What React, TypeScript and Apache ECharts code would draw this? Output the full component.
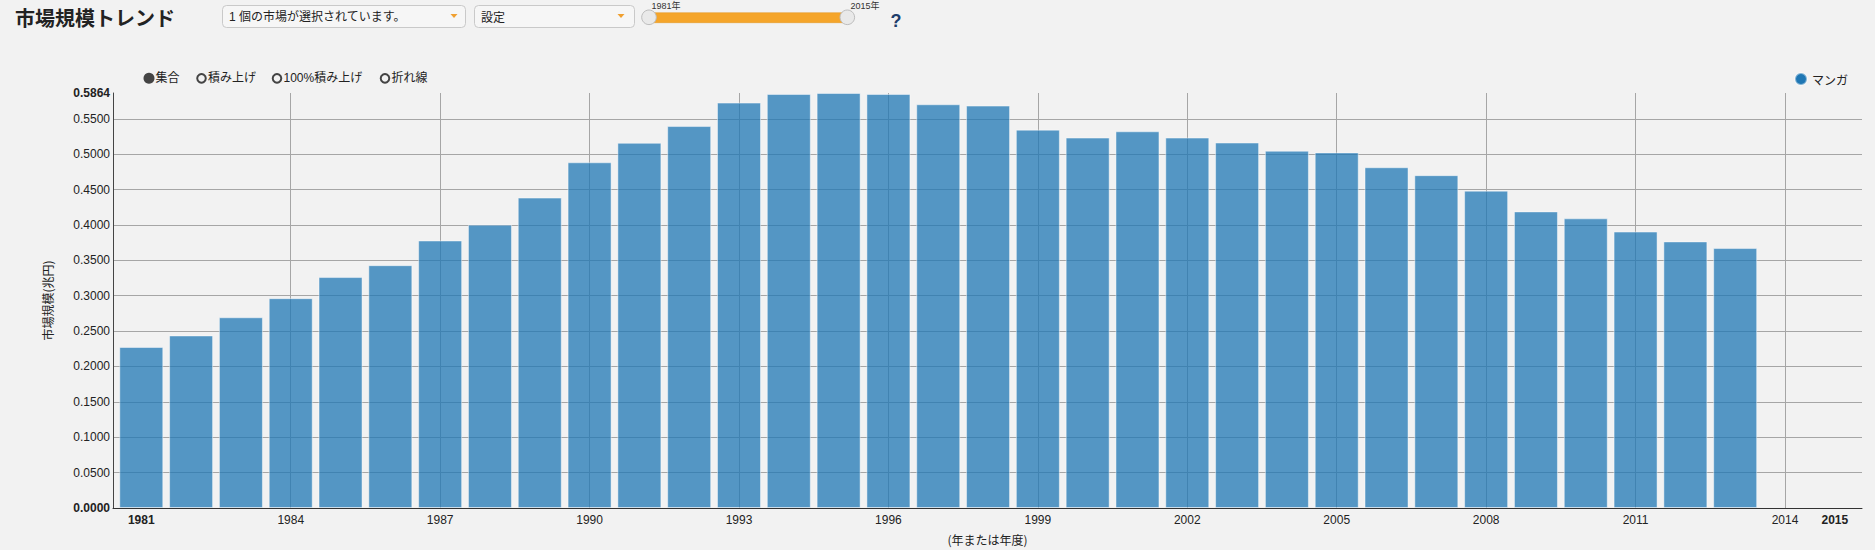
import React, { useEffect, useRef } from "react";
import * as echarts from "echarts";

// ---- data ----
const years = [
  1981, 1982, 1983, 1984, 1985, 1986, 1987, 1988, 1989, 1990, 1991,
  1992, 1993, 1994, 1995, 1996, 1997, 1998, 1999, 2000, 2001, 2002,
  2003, 2004, 2005, 2006, 2007, 2008, 2009, 2010, 2011, 2012, 2013,
];
const mangaMarket = [
  0.2275, 0.2438, 0.2695, 0.2965, 0.3263, 0.3431, 0.378, 0.4004, 0.4386,
  0.4885, 0.516, 0.5397, 0.5728, 0.585, 0.5864, 0.585, 0.5705, 0.5686,
  0.5346, 0.5234, 0.5323, 0.5234, 0.5164, 0.5048, 0.5025, 0.4815, 0.4703,
  0.4484, 0.4191, 0.4093, 0.3906, 0.3767, 0.3673,
];
const seriesName = "マンガ";
const xTickLabels = [
  1981, 1984, 1987, 1990, 1993, 1996, 1999, 2002, 2005, 2008, 2011, 2014, 2015,
];
const xGridYears = [
  1984, 1987, 1990, 1993, 1996, 1999, 2002, 2005, 2008, 2011, 2014,
];
const yTickLabels = [
  0, 0.05, 0.1, 0.15, 0.2, 0.25, 0.3, 0.35, 0.4, 0.45, 0.5, 0.55, 0.5864,
];
const yGridValues = [
  0.05, 0.1, 0.15, 0.2, 0.25, 0.3, 0.35, 0.4, 0.45, 0.5, 0.55,
];
const boldXLabels = [1981, 2015];
const yMax = 0.5864;
const modeOptions = ["集合", "積み上げ", "100%積み上げ", "折れ線"];
const sliderLabels = ["1981年", "2015年"];

const LATIN = "'Liberation Sans', 'Noto Sans CJK JP', Arial, sans-serif";
const CJK = "'Noto Sans CJK JP', 'Liberation Sans', sans-serif";

export default function App() {
  const ref = useRef<HTMLDivElement>(null);

  useEffect(() => {
    document.body.style.margin = "0";
    document.body.style.background = "#f2f2f2";
    if (!ref.current) return;
    const chart = echarts.init(ref.current, undefined, { renderer: "svg" });

    const radioX = [149, 201.5, 277, 385];
    const radioGraphics: any[] = [];
    modeOptions.forEach((label, i) => {
      if (i === 0) {
        radioGraphics.push({
          type: "circle",
          shape: { cx: radioX[i], cy: 78.3, r: 5.5 },
          style: { fill: "#444" },
        });
      } else {
        radioGraphics.push({
          type: "circle",
          shape: { cx: radioX[i], cy: 78.3, r: 4.3 },
          style: { fill: "none", stroke: "#444", lineWidth: 2 },
        });
      }
      radioGraphics.push({
        type: "text",
        x: radioX[i] + 6.5,
        y: 78.3,
        style: {
          text: label,
          fontSize: 12,
          fontFamily: LATIN,
          fill: "#222",
          textVerticalAlign: "middle",
        },
      });
    });

    const option: any = {
      animation: false,
      backgroundColor: "#f2f2f2",
      grid: { left: 113, right: 13, top: 93, bottom: 38, containLabel: false },
      legend: {
        data: [{ name: seriesName, itemStyle: { color: "#1f77b4" } }],
        icon: "circle",
        itemWidth: 12,
        itemHeight: 12,
        padding: 0,
        left: 1794,
        top: 72,
        textStyle: { fontSize: 12, color: "#222", fontFamily: CJK },
      },
      xAxis: {
        type: "value",
        min: 1980.432,
        max: 2015.546,
        axisLine: { show: true, onZero: false, lineStyle: { color: "#333", width: 1 } },
        axisTick: { show: false, customValues: xGridYears },
        splitLine: { show: true, lineStyle: { color: "#a6a6a6", width: 1 } },
        axisLabel: {
          customValues: xTickLabels,
          showMinLabel: true,
          showMaxLabel: true,
          margin: 6,
          color: "#222",
          fontSize: 12,
          fontFamily: LATIN,
          formatter: (v: number) =>
            boldXLabels.includes(Math.round(v)) ? `{b|${Math.round(v)}}` : `${Math.round(v)}`,
          rich: {
            b: { fontWeight: "bold", fontSize: 12, color: "#222", fontFamily: LATIN },
          },
        },
        name: "(年または年度)",
        nameLocation: "middle",
        nameGap: 25,
        nameTextStyle: { fontSize: 12, color: "#222", fontFamily: CJK },
      },
      yAxis: {
        type: "value",
        min: 0,
        max: yMax,
        axisLine: { show: true, onZero: false, lineStyle: { color: "#444", width: 1 } },
        axisTick: { show: false, customValues: yGridValues },
        splitLine: { show: true, lineStyle: { color: "#a6a6a6", width: 1 } },
        axisLabel: {
          customValues: yTickLabels,
          showMinLabel: true,
          showMaxLabel: true,
          margin: 3,
          color: "#222",
          fontSize: 12,
          fontFamily: LATIN,
          formatter: (v: number) =>
            v === 0 || Math.abs(v - yMax) < 1e-9 ? `{b|${v.toFixed(4)}}` : v.toFixed(4),
          rich: {
            b: { fontWeight: "bold", fontSize: 12, color: "#222", fontFamily: LATIN },
          },
        },
        name: "市場規模(兆円)",
        nameLocation: "middle",
        nameGap: 60,
        nameTextStyle: { fontSize: 12, color: "#222", fontFamily: CJK },
      },
      series: [
        {
          name: seriesName,
          type: "bar",
          barWidth: 44,
          data: years.map((y, i) => [y, mangaMarket[i]]),
          itemStyle: {
            color: "rgba(31,119,180,0.75)",
            borderColor: "rgba(255,255,255,0.45)",
            borderWidth: 1,
          },
        },
      ],
      graphic: [
        {
          type: "text",
          x: 15,
          y: 17,
          style: {
            text: "市場規模トレンド",
            fontSize: 20,
            fontWeight: "bold",
            fontFamily: CJK,
            fill: "#222",
            textVerticalAlign: "middle",
          },
        },
        {
          type: "rect",
          shape: { x: 222.5, y: 5.5, width: 243, height: 22, r: 4 },
          style: { fill: "#f6f6f6", stroke: "#c9c9c9", lineWidth: 1 },
        },
        {
          type: "text",
          x: 229,
          y: 16.5,
          style: {
            text: "1 個の市場が選択されています。",
            fontSize: 12,
            fontFamily: LATIN,
            fill: "#222",
            textVerticalAlign: "middle",
          },
        },
        {
          type: "polygon",
          shape: { points: [[450.5, 14], [457.5, 14], [454, 18]] },
          style: { fill: "#f0a030" },
        },
        {
          type: "rect",
          shape: { x: 474.5, y: 5.5, width: 160, height: 22, r: 4 },
          style: { fill: "#f6f6f6", stroke: "#c9c9c9", lineWidth: 1 },
        },
        {
          type: "text",
          x: 481,
          y: 16.5,
          style: {
            text: "設定",
            fontSize: 12,
            fontFamily: CJK,
            fill: "#222",
            textVerticalAlign: "middle",
          },
        },
        {
          type: "polygon",
          shape: { points: [[617.5, 14], [624.5, 14], [621, 18]] },
          style: { fill: "#f0a030" },
        },
        {
          type: "rect",
          shape: { x: 649, y: 12.7, width: 198, height: 10 },
          style: { fill: "#f5a52a", stroke: "#e0961f", lineWidth: 0.5 },
        },
        {
          type: "circle",
          shape: { cx: 649, cy: 17.3, r: 7.3 },
          style: { fill: "#e9e9e9", stroke: "#bdbdbd", lineWidth: 1 },
        },
        {
          type: "circle",
          shape: { cx: 847.3, cy: 17.3, r: 7.3 },
          style: { fill: "#e9e9e9", stroke: "#bdbdbd", lineWidth: 1 },
        },
        {
          type: "text",
          x: 666,
          y: 1,
          z: 10,
          style: {
            text: sliderLabels[0],
            fontSize: 9,
            fontFamily: LATIN,
            fill: "#333",
            textAlign: "center",
            textVerticalAlign: "top",
          },
        },
        {
          type: "text",
          x: 865,
          y: 1,
          z: 10,
          style: {
            text: sliderLabels[1],
            fontSize: 9,
            fontFamily: LATIN,
            fill: "#333",
            textAlign: "center",
            textVerticalAlign: "top",
          },
        },
        {
          type: "text",
          x: 896,
          y: 20.5,
          style: {
            text: "?",
            fontSize: 18,
            fontWeight: "bold",
            fontFamily: LATIN,
            fill: "#1d3d6b",
            textAlign: "center",
            textVerticalAlign: "middle",
          },
        },
        ...radioGraphics,
      ],
    };

    chart.setOption(option);
    return () => {
      chart.dispose();
    };
  }, []);

  return <div ref={ref} style={{ width: 1875, height: 550 }} />;
}
